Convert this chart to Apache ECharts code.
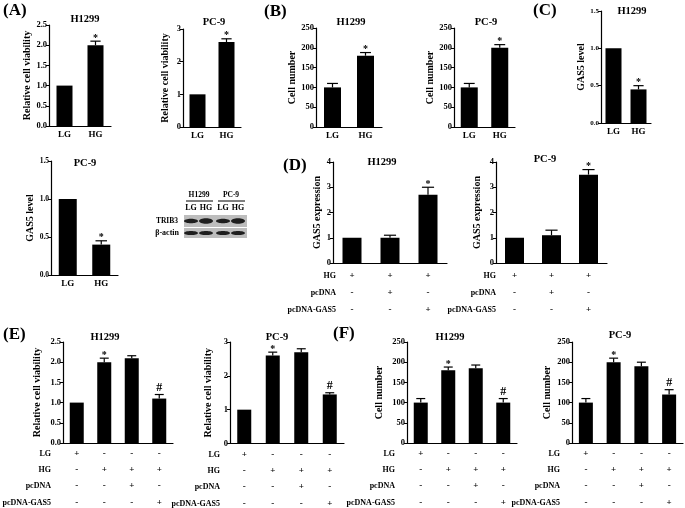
<!DOCTYPE html>
<html><head><meta charset="utf-8">
<script src="https://cdn.jsdelivr.net/npm/echarts@6/dist/echarts.min.js"></script>
<style>html,body{margin:0;padding:0;background:#fff}#c{width:685px;height:508px}</style>
</head><body><div id="c"></div>
<script>
// ================= DATA =================
const catsTwo = ['LG', 'HG'];
const catsThree = ['g1', 'g2', 'g3'];
const catsFour = ['g1', 'g2', 'g3', 'g4'];

// (A) relative cell viability
const aH1299Val = [1.0, 2.0];  const aH1299Err = [0, 0.1];  const aH1299Sig = ['', '*'];
const aPC9Val   = [1.0, 2.6];  const aPC9Err   = [0, 0.1];  const aPC9Sig   = ['', '*'];
// (B) cell number
const bH1299Val = [100, 180];  const bH1299Err = [10, 8];   const bH1299Sig = ['', '*'];
const bPC9Val   = [100, 200];  const bPC9Err   = [10, 8];   const bPC9Sig   = ['', '*'];
// (C) GAS5 level
const cH1299Val = [1.0, 0.45]; const cH1299Err = [0, 0.05]; const cH1299Sig = ['', '*'];
const cPC9Val   = [1.0, 0.40]; const cPC9Err   = [0, 0.05]; const cPC9Sig   = ['', '*'];
// (D) GAS5 expression
const dH1299Val = [1.0, 1.0, 2.7]; const dH1299Err = [0, 0.1, 0.3]; const dH1299Sig = ['', '', '*'];
const dPC9Val   = [1.0, 1.1, 3.5]; const dPC9Err   = [0, 0.2, 0.2]; const dPC9Sig   = ['', '', '*'];
// (E) relative cell viability
const eH1299Val = [1.0, 2.0, 2.1, 1.1];  const eH1299Err = [0, 0.1, 0.06, 0.1]; const eH1299Sig = ['', '*', '', '#'];
const ePC9Val   = [1.0, 2.6, 2.7, 1.45]; const ePC9Err   = [0, 0.1, 0.1, 0.05]; const ePC9Sig   = ['', '*', '', '#'];
// (F) cell number
const fH1299Val = [100, 180, 185, 100]; const fH1299Err = [10, 8, 8, 10];   const fH1299Sig = ['', '*', '', '#'];
const fPC9Val   = [100, 200, 190, 120]; const fPC9Err   = [10, 10, 10, 12]; const fPC9Sig   = ['', '*', '', '#'];

// treatment rows
const dRowNames = ['HG', 'pcDNA', 'pcDNA-GAS5'];
const dRowHG    = ['+', '+', '+'];
const dRowPcDNA = ['-', '+', '-'];
const dRowGAS5  = ['-', '-', '+'];
const efRowNames = ['LG', 'HG', 'pcDNA', 'pcDNA-GAS5'];
const efRowLG    = ['+', '-', '-', '-'];
const efRowHG    = ['-', '+', '+', '+'];
const efRowPcDNA = ['-', '-', '+', '-'];
const efRowGAS5  = ['-', '-', '-', '+'];

// y tick labels
const ticksViab25 = [0, 0.5, 1.0, 1.5, 2.0, 2.5];
const ticksViab3  = [0, 1, 2, 3];
const ticksCell   = [0, 50, 100, 150, 200, 250];
const ticksGas5   = [0, 0.5, 1.0, 1.5];
const ticksExpr   = [0, 1, 2, 3, 4];

// ================= BUILD =================
const FONT = "'Liberation Serif', 'Times New Roman', serif";
const grids = [], xAxes = [], yAxes = [], series = [], graphics = [];

function errRender(sig, halfCap) {
  return function (params, api) {
    const i = api.value(0), v = api.value(1), e = api.value(2);
    const p0 = api.coord([i, v]);
    const p1 = api.coord([i, v + e]);
    const ch = [];
    if (e > 0) {
      ch.push({type: 'line', shape: {x1: p0[0], y1: p0[1], x2: p1[0], y2: p1[1]}, style: {stroke: '#000', lineWidth: 1.2}});
      ch.push({type: 'line', shape: {x1: p1[0] - halfCap, y1: p1[1], x2: p1[0] + halfCap, y2: p1[1]}, style: {stroke: '#000', lineWidth: 1.2}});
    }
    const s = sig[params.dataIndex];
    if (s) {
      const fs = s === '#' ? 12 : 10;
      ch.push({type: 'text', style: {text: s, x: p1[0], y: p1[1] - (s === '#' ? 1 : -2), align: 'center', verticalAlign: 'bottom', fontSize: fs, fontWeight: 'bold', fontFamily: FONT, fill: '#000'}});
    }
    return {type: 'group', children: ch};
  };
}

function txt(text, x, y, size, align) {
  return {type: 'text', style: {text: text, x: x, y: y, align: align || 'center', verticalAlign: 'middle',
    fontSize: size, fontWeight: 'bold', fontFamily: FONT, fill: '#000'}};
}

function panel(p) {
  const gi = grids.length;
  grids.push({left: p.left, top: p.top, width: p.width, height: p.height, containLabel: false});
  const xi = xAxes.length;
  xAxes.push({
    type: 'category', gridIndex: gi, data: p.cats,
    axisLine: {lineStyle: {color: '#000', width: 1.2}},
    axisTick: {alignWithLabel: true, length: 3, lineStyle: {color: '#000', width: 1}},
    axisLabel: {show: !p.rows, margin: 4, fontSize: 9, fontWeight: 'bold', fontFamily: FONT, color: '#000'}
  });
  if (p.rows) {
    p.rows.forEach((r) => {
      xAxes.push({
        type: 'category', gridIndex: gi, data: r.data, position: 'bottom', offset: r.offset,
        axisLine: {show: false}, axisTick: {show: false},
        axisLabel: {margin: 0, verticalAlign: 'middle', fontSize: 9, fontWeight: 'bold', fontFamily: FONT, color: '#000'},
        name: r.name, nameLocation: 'start', nameGap: p.rowGap,
        nameTextStyle: {fontSize: 8, fontWeight: 'bold', fontFamily: FONT, color: '#000', verticalAlign: 'middle'}
      });
    });
  }
  const t = p.ticks;
  yAxes.push({
    type: 'value', gridIndex: gi, min: t[0], max: t[t.length - 1], interval: t[1] - t[0],
    axisLine: {show: true, lineStyle: {color: '#000', width: 1.2}},
    axisTick: {show: true, length: 3, lineStyle: {color: '#000'}},
    splitLine: {show: false},
    axisLabel: {margin: 2, fontSize: p.tickFs || 8.5, fontWeight: 'bold', fontFamily: FONT, color: '#000',
      formatter: v => p.dec ? v.toFixed(p.dec) : String(Math.round(v))},
    name: p.yName, nameLocation: 'middle', nameGap: p.nameGap,
    nameTextStyle: {fontSize: 10, fontWeight: 'bold', fontFamily: FONT, color: '#000'}
  });
  series.push({type: 'bar', xAxisIndex: xi, yAxisIndex: gi, data: p.val, barWidth: p.bw,
    itemStyle: {color: '#000'}, silent: true, animation: false});
  series.push({type: 'custom', xAxisIndex: xi, yAxisIndex: gi, z: 5, animation: false,
    data: p.val.map((v, i) => [i, v, p.err[i]]), encode: {x: 0, y: 1},
    renderItem: errRender(p.sig, p.bw * 0.32)});
  graphics.push(txt(p.title, p.tx, p.ty, 10.5));
}

const dRows = [
  {name: dRowNames[0], data: dRowHG, offset: 13},
  {name: dRowNames[1], data: dRowPcDNA, offset: 30},
  {name: dRowNames[2], data: dRowGAS5, offset: 47}
];
const efRows = [
  {name: efRowNames[0], data: efRowLG, offset: 11},
  {name: efRowNames[1], data: efRowHG, offset: 27},
  {name: efRowNames[2], data: efRowPcDNA, offset: 43},
  {name: efRowNames[3], data: efRowGAS5, offset: 60}
];

panel({left: 49, top: 25, width: 62, height: 101, cats: catsTwo, val: aH1299Val, err: aH1299Err, sig: aH1299Sig, ticks: ticksViab25, dec: 1, yName: 'Relative cell viability', nameGap: 17, bw: 16, title: 'H1299', tx: 85, ty: 19});
panel({left: 183, top: 29, width: 58, height: 98, cats: catsTwo, val: aPC9Val, err: aPC9Err, sig: aPC9Sig, ticks: ticksViab3, dec: 0, yName: 'Relative cell viability', nameGap: 13, bw: 16, title: 'PC-9', tx: 214, ty: 22});
panel({left: 316, top: 28, width: 66, height: 99, cats: catsTwo, val: bH1299Val, err: bH1299Err, sig: bH1299Sig, ticks: ticksCell, dec: 0, yName: 'Cell number', nameGap: 16, bw: 17, title: 'H1299', tx: 351, ty: 22});
panel({left: 454, top: 28, width: 61, height: 99, cats: catsTwo, val: bPC9Val, err: bPC9Err, sig: bPC9Sig, ticks: ticksCell, dec: 0, yName: 'Cell number', nameGap: 15, bw: 17, title: 'PC-9', tx: 486, ty: 22});
panel({left: 601, top: 11, width: 50, height: 112, cats: catsTwo, val: cH1299Val, err: cH1299Err, sig: cH1299Sig, ticks: ticksGas5, dec: 1, tickFs: 7, yName: 'GAS5 level', nameGap: 12, bw: 16, title: 'H1299', tx: 632, ty: 11});
panel({left: 51, top: 161, width: 67, height: 114, cats: catsTwo, val: cPC9Val, err: cPC9Err, sig: cPC9Sig, ticks: ticksGas5, dec: 1, tickFs: 7.5, yName: 'GAS5 level', nameGap: 16, bw: 18, title: 'PC-9', tx: 85, ty: 163});
panel({left: 333, top: 162, width: 114, height: 101, cats: catsThree, val: dH1299Val, err: dH1299Err, sig: dH1299Sig, ticks: ticksExpr, dec: 0, yName: 'GAS5 expression', nameGap: 8, bw: 19, title: 'H1299', tx: 382, ty: 162, rows: dRows, rowGap: -3});
panel({left: 496, top: 162, width: 111, height: 101, cats: catsThree, val: dPC9Val, err: dPC9Err, sig: dPC9Sig, ticks: ticksExpr, dec: 0, yName: 'GAS5 expression', nameGap: 14, bw: 19, title: 'PC-9', tx: 545, ty: 159, rows: dRows, rowGap: 0});
panel({left: 63, top: 342, width: 110, height: 101, cats: catsFour, val: eH1299Val, err: eH1299Err, sig: eH1299Sig, ticks: ticksViab25, dec: 1, yName: 'Relative cell viability', nameGap: 21, bw: 14, title: 'H1299', tx: 105, ty: 337, rows: efRows, rowGap: 12});
panel({left: 230, top: 342, width: 114, height: 102, cats: catsFour, val: ePC9Val, err: ePC9Err, sig: ePC9Sig, ticks: ticksViab3, dec: 0, yName: 'Relative cell viability', nameGap: 17, bw: 14, title: 'PC-9', tx: 277, ty: 337, rows: efRows, rowGap: 10});
panel({left: 407, top: 342, width: 110, height: 101, cats: catsFour, val: fH1299Val, err: fH1299Err, sig: fH1299Sig, ticks: ticksCell, dec: 0, yName: 'Cell number', nameGap: 23, bw: 14, title: 'H1299', tx: 450, ty: 337, rows: efRows, rowGap: 12});
panel({left: 572, top: 342, width: 111, height: 101, cats: catsFour, val: fPC9Val, err: fPC9Err, sig: fPC9Sig, ticks: ticksCell, dec: 0, yName: 'Cell number', nameGap: 20, bw: 14, title: 'PC-9', tx: 620, ty: 335, rows: efRows, rowGap: 12});

// panel letters
[['(A)', 3, 11], ['(B)', 264, 12], ['(C)', 533, 11], ['(D)', 283, 166], ['(E)', 3, 335], ['(F)', 333, 334]].forEach(l => {
  graphics.push(txt(l[0], l[1], l[2], 17, 'left'));
});

// western blot inset
const blotLanes = ['LG', 'HG', 'LG', 'HG'];
const laneX = [191, 206, 223, 238];
graphics.push(txt('H1299', 199, 195, 7.5));
graphics.push(txt('PC-9', 231, 195, 7.5));
graphics.push({type: 'line', shape: {x1: 186, y1: 201, x2: 213, y2: 201}, style: {stroke: '#000', lineWidth: 1}});
graphics.push({type: 'line', shape: {x1: 218, y1: 201, x2: 245, y2: 201}, style: {stroke: '#000', lineWidth: 1}});
blotLanes.forEach((t, i) => graphics.push(txt(t, laneX[i], 208, 8)));
graphics.push({type: 'rect', shape: {x: 184, y: 215, width: 63, height: 12}, style: {fill: '#bdbdbd'}});
graphics.push({type: 'rect', shape: {x: 184, y: 228, width: 63, height: 10}, style: {fill: '#bdbdbd'}});
laneX.forEach((x, i) => {
  graphics.push({type: 'ellipse', shape: {cx: x, cy: 221, rx: 7, ry: i % 2 ? 2.8 : 2.3}, style: {fill: '#1e1e1e'}});
  graphics.push({type: 'ellipse', shape: {cx: x, cy: 233, rx: 7, ry: 2.1}, style: {fill: '#1e1e1e'}});
});
graphics.push(txt('TRIB3', 178, 221, 7.5, 'right'));
graphics.push(txt('β-actin', 179, 233, 8, 'right'));

const chart = echarts.init(document.getElementById('c'), null, {renderer: 'canvas'});
chart.setOption({
  animation: false,
  backgroundColor: '#fff',
  grid: grids, xAxis: xAxes, yAxis: yAxes, series: series,
  graphic: graphics
});
</script></body></html>
